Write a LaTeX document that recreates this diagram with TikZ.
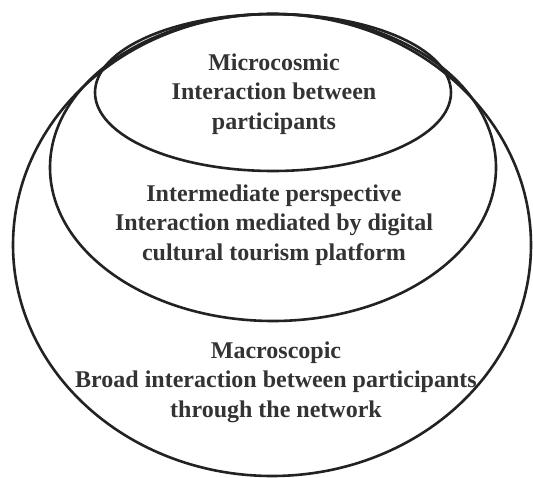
\documentclass[tikz,border=0pt]{standalone}
\usepackage{fontspec}
\setmainfont{Liberation Serif}
\definecolor{linec}{HTML}{222222}
\definecolor{textc}{HTML}{333333}
\begin{document}
\begin{tikzpicture}[x=1pt,y=-1pt,
  ring/.style={draw=linec,line width=2.6pt},
  lbl/.style={align=center,text=textc,font=\fontsize{24}{29.5}\selectfont\bfseries,inner sep=0pt}]
\useasboundingbox (0,0) rectangle (533,478);
\draw[ring] (272,245) ellipse [x radius=259, y radius=231];
\draw[ring] (273,167.5) ellipse [x radius=223, y radius=153.5];
\draw[ring] (273,92.5) ellipse [x radius=178, y radius=78.5];
\node[lbl] (micro) at (274,94) {Microcosmic\\Interaction between\\participants};
\node[lbl] (inter) at (274,225) {Intermediate perspective\\Interaction mediated by digital\\cultural tourism platform};
\node[lbl] (macro) at (276,382) {Macroscopic\\Broad interaction between participants\\through the network};
\end{tikzpicture}
\end{document}
